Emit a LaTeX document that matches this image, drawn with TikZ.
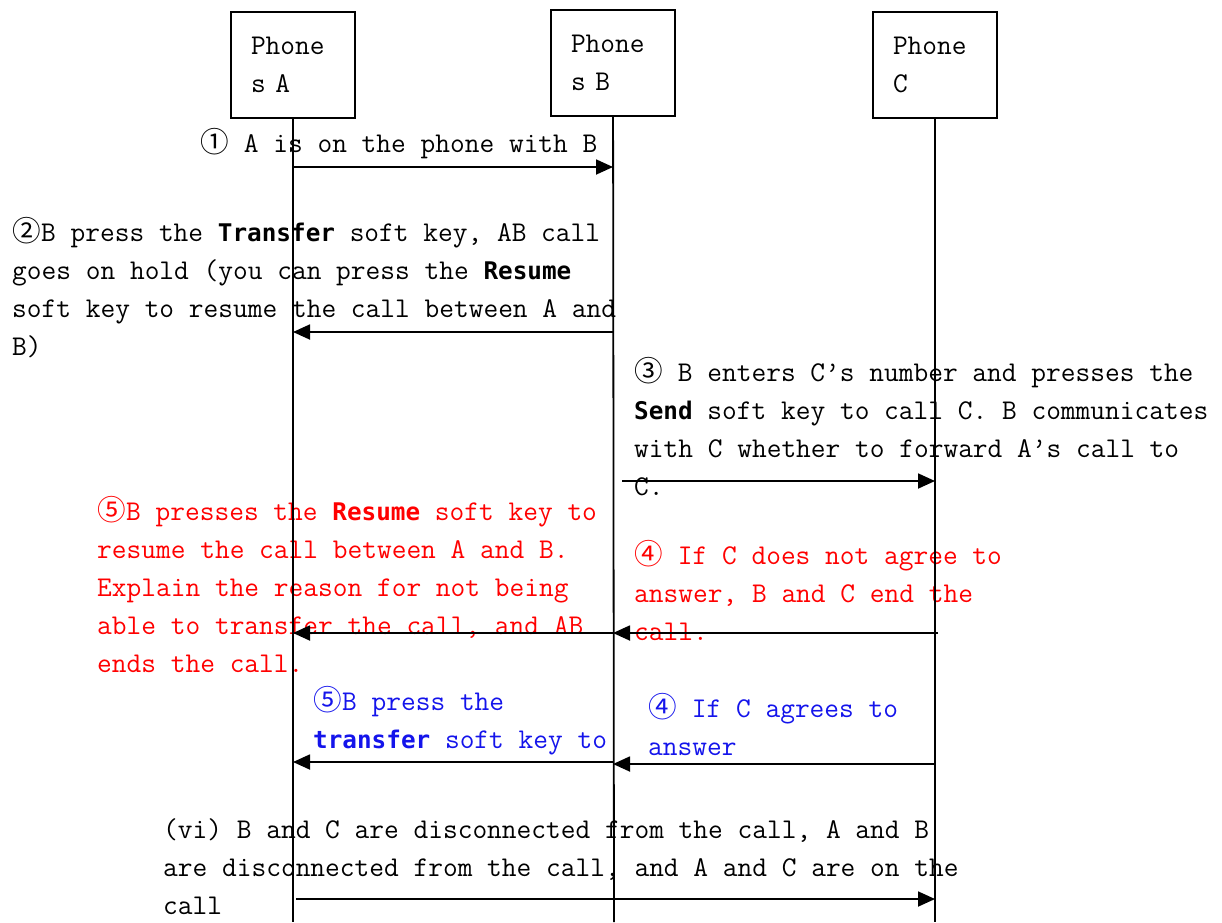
\documentclass[tikz,border=0pt]{standalone}
\usepackage{fontspec}
\setmonofont{Latin Modern Mono}
\newfontfamily\keyfont[Scale=0.85]{DejaVu Sans Mono}
\newfontfamily\circfont{Noto Sans CJK SC}
\usetikzlibrary{arrows.meta, positioning}
\definecolor{failred}{RGB}{255,0,0}
\definecolor{okblue}{RGB}{20,20,235}
\newcommand{\softkey}[1]{{\keyfont\bfseries #1}}
\newcommand{\cnum}[1]{\makebox[29pt][l]{\circfont #1}}

\begin{document}
\begin{tikzpicture}[
  x=1pt, y=-1pt,
  font=\fontsize{28.6}{38}\selectfont\ttfamily,
  phone/.style={draw, line width=1.8pt, minimum width=124pt,
                minimum height=106pt, text width=84pt, align=left,
                inner xsep=20pt, inner ysep=0pt},
  lbl/.style={anchor=base west, align=left, inner sep=0pt},
  life/.style={line width=1.8pt},
  msg/.style={-{Triangle[length=17pt, width=15pt]}, line width=1.8pt}]

  \useasboundingbox (0,0) rectangle (1222,922);

  % phones
  \node[phone] (phoneA) at (293,65) {Phone\\s A};
  \node[phone] (phoneB) at (613,63) {Phone\\s B};
  \node[phone] (phoneC) at (935,65) {Phone\\C};

  % step texts (anchored at the baseline of their last line)
  \node[lbl] (talkAB) at (200,152) {\cnum{①} A is on the phone with B};
  \node[lbl] (hold) at (12,355)
    {\cnum{②}B press the \softkey{Transfer} soft key, AB call\\
     goes on hold (you can press the \softkey{Resume}\\
     soft key to resume the call between A and\\
     B)};
  \node[lbl] (dial) at (634,495)
    {\cnum{③} B enters C’s number and presses the\\
     \softkey{Send} soft key to call C. B communicates\\
     with C whether to forward A’s call to\\
     C.};
  \node[lbl, text=failred] (resume) at (97,672)
    {\cnum{⑤}B presses the \softkey{Resume} soft key to\\
     resume the call between A and B.\\
     Explain the reason for not being\\
     able to transfer the call, and AB\\
     ends the call.};
  \node[lbl, text=failred] (refuse) at (634,640)
    {\cnum{④} If C does not agree to\\
     answer, B and C end the\\
     call.};
  \node[lbl, text=okblue] (transfer) at (313,748)
    {\cnum{⑤}B press the\\
     \softkey{transfer} soft key to};
  \node[lbl, text=okblue] (agree) at (648,755)
    {\cnum{④} If C agrees to\\
     answer};
  \node[lbl] (done) at (163,914)
    {(vi) B and C are disconnected from the call, A and B\\
     are disconnected from the call, and A and C are on the\\
     call};

  % lifelines
  \coordinate (endA) at (293,922);
  \coordinate (endB) at (614,922);
  \coordinate (endC) at (935,922);
  \draw[life] (phoneA) -- (endA);
  \draw[life] (phoneB) -- (endB);
  \draw[life] (phoneC) -- (endC);

  % messages
  \draw[msg] (phoneA |- 0,167) -- (phoneB |- 0,167);
  \draw[msg] (phoneB |- 0,332) -- (phoneA |- 0,332);
  \draw[msg] (phoneB |- 0,481) ++(9,0) -- (phoneC |- 0,481);
  \draw[msg] (phoneC |- 0,633) ++(3,0) -- (phoneB |- 0,633);
  \draw[msg] (phoneB |- 0,633) -- (phoneA |- 0,633);
  \draw[msg] (phoneC |- 0,764) -- (phoneB |- 0,764);
  \draw[msg] (phoneB |- 0,762) -- (phoneA |- 0,762);
  \draw[msg] (phoneA |- 0,899) ++(3,0) -- (phoneC |- 0,899);
\end{tikzpicture}
\end{document}
